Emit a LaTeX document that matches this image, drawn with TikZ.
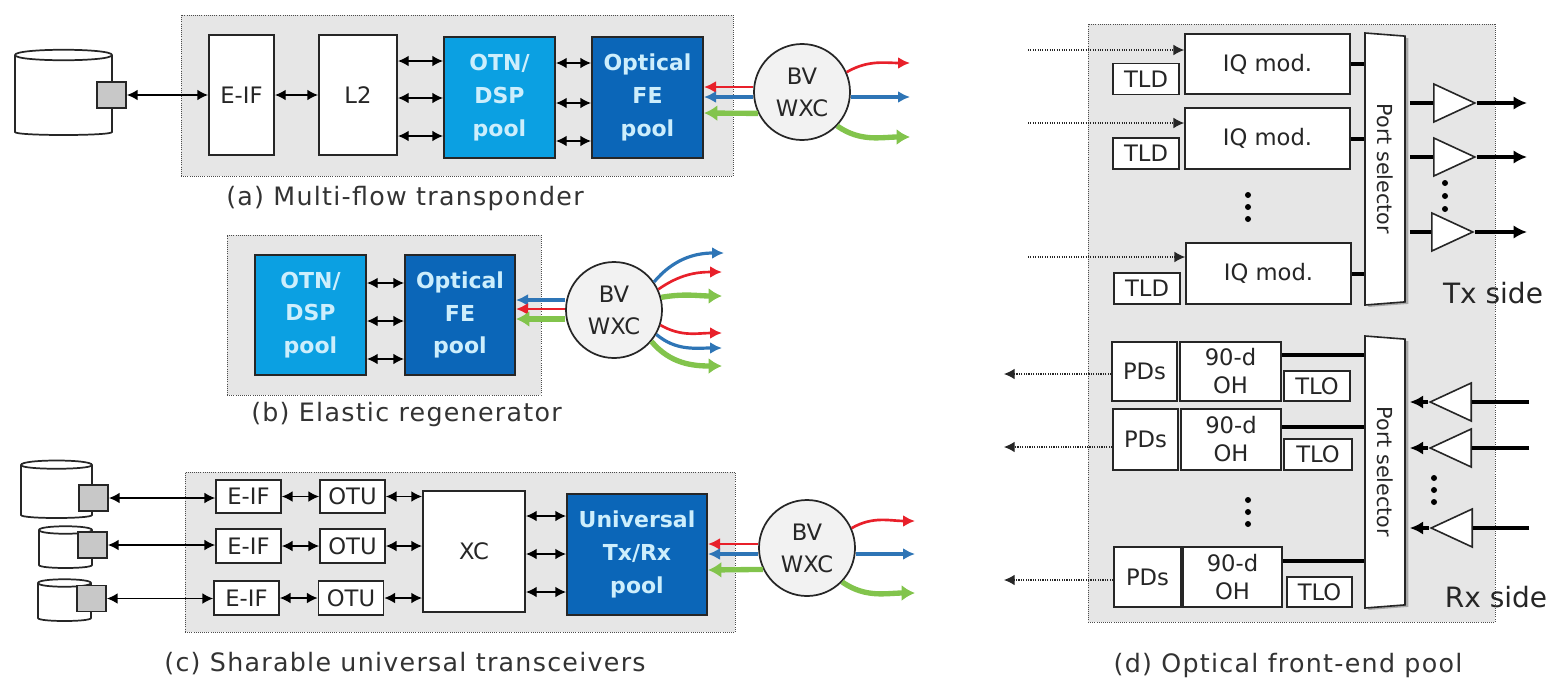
\documentclass[tikz,border=0pt]{standalone}
\usepackage{fontspec}
\setmainfont{DejaVu Sans}
\newfontfamily\captionfont[LetterSpace=5]{DejaVu Sans}
\usetikzlibrary{arrows.meta}
\usetikzlibrary{shapes.geometric}
\usetikzlibrary{shadows}
\definecolor{poolgray}{HTML}{E6E6E6}
\definecolor{squaregray}{HTML}{C8C8C8}
\definecolor{otnblue}{HTML}{0BA0E2}
\definecolor{feblue}{HTML}{0B66B8}
\definecolor{labelblue}{HTML}{CDEEFC}
\definecolor{linkred}{HTML}{E8202A}
\definecolor{linkblue}{HTML}{2E75B6}
\definecolor{linkgreen}{HTML}{82C44C}
\definecolor{inkgray}{HTML}{262626}
\tikzset{wh/.style 2 args={minimum width=#1*0.75pt, minimum height=#2*0.75pt}}
\tikzstyle{pool}=[draw=black!70, fill=poolgray, densely dotted, semithick, inner sep=0]
\tikzstyle{block}=[draw=black!85, fill=white, line width=1.5pt, inner sep=0, align=center, text=inkgray, font=\fontsize{17}{24}\selectfont]
\tikzstyle{small block}=[block, line width=1.3pt, font=\fontsize{17}{21}\selectfont]
\tikzstyle{otn pool}=[block, fill=otnblue, text=labelblue, font=\fontsize{16.5}{24.5}\selectfont\bfseries]
\tikzstyle{fe pool}=[block, fill=feblue, text=labelblue, font=\fontsize{16.5}{24.5}\selectfont\bfseries]
\tikzstyle{wxc}=[circle, draw=black!85, fill=black!5, line width=1.3pt, minimum size=72pt, inner sep=0, align=center, text=inkgray, font=\fontsize{17}{24}\selectfont]
\tikzstyle{client}=[draw=black!85, fill=white, line width=1.3pt]
\tikzstyle{port}=[draw=black!85, fill=squaregray, line width=1.4pt, inner sep=0, wh={29}{26}]
\tikzstyle{biarrow}=[{Latex[length=8pt,width=8pt]}-{Latex[length=8pt,width=8pt]}, line width=1pt, black]
\tikzstyle{red link}=[-{Latex[length=9pt,width=9pt]}, linkred, line width=2pt]
\tikzstyle{blue link}=[-{Latex[length=9pt,width=9pt]}, linkblue, line width=2.4pt]
\tikzstyle{green link}=[-{Latex[length=10pt,width=12pt]}, linkgreen, line width=4pt]
\tikzstyle{caption}=[inner sep=0, text=black!80, font=\fontsize{19}{23}\captionfont\selectfont]
\tikzstyle{side label}=[inner sep=0, text=inkgray, font=\fontsize{21}{24}\selectfont]
\tikzstyle{selector}=[trapezium, rotate=-90, draw=black!85, fill=white, line width=1.2pt, trapezium stretches body, trapezium angle=79, inner sep=0, wh={272}{40}, text=inkgray, drop shadow={shadow xshift=2.5pt, shadow yshift=-1.5pt, opacity=0.6}, font=\fontsize{15.5}{18}\selectfont]
\tikzstyle{amp}=[isosceles triangle, isosceles triangle stretches, draw=black!85, fill=white, line width=1.2pt, inner sep=0, wh={38}{41}, anchor=lower side]
\tikzstyle{thick line}=[line width=3pt, black]
\tikzstyle{thick arrow}=[thick line, -{Latex[length=10pt,width=10pt]}]
\tikzstyle{signal}=[-{Latex[length=8pt,width=8pt]}, densely dotted, thick, black!85]
\tikzstyle{bigdot}=[circle, fill=black, minimum size=4.5pt, inner sep=0]

\begin{document}
\begin{tikzpicture}[x=0.75pt, y=-0.75pt]
  \useasboundingbox (0,0) rectangle (1553,679);

  % (a) multi-flow transponder
  \node[pool, wh={552}{161}] (pool_a) at (457,95.5) {};
  \node[block, wh={65}{120}] (eif_a) at (241.5,95) {E-IF};
  \node[block, wh={78}{120}] (l2_a) at (358,95) {L2};
  \node[otn pool, wh={111}{121}] (otn_a) at (499.5,97.5) {OTN/\\DSP\\pool};
  \node[fe pool, wh={111}{121}] (fe_a) at (647.5,97.5) {Optical\\FE\\pool};
  \node[wxc] (wxc_a) at (802,92) {BV\\WXC};
  \draw[client] (15,55) -- (15,132) .. controls (15,136) and (112,136) .. (112,132) -- (112,55)
    .. controls (112,48) and (15,48) .. (15,55) -- cycle;
  \draw[client] (15,55) .. controls (15,62) and (112,62) .. (112,55);
  \node[port] (port_a) at (111.5,95) {};
  \node[caption] (caption_a) at (405,199) {(a) Multi-flow transponder};

  \coordinate (a_1) at (0,61);
  \coordinate (a_2) at (0,98);
  \coordinate (a_3) at (0,136);
  \coordinate (a_red) at (910,63);
  \coordinate (a_blue) at (910,97);
  \coordinate (a_green) at (910,137);

  \draw[biarrow] (port_a.east) to (eif_a.west |- port_a.east);
  \draw[biarrow] (eif_a.east) to (l2_a.west);
  \draw[biarrow] (l2_a.east |- a_1) to (otn_a.west |- a_1);
  \draw[biarrow] (l2_a.east |- a_2) to (otn_a.west |- a_2);
  \draw[biarrow] (l2_a.east |- a_3) to (otn_a.west |- a_3);
  \draw[biarrow] (otn_a.east |- 0,63) to (fe_a.west |- 0,63);
  \draw[biarrow] (otn_a.east |- 0,103) to (fe_a.west |- 0,103);
  \draw[biarrow] (otn_a.east |- 0,141) to (fe_a.west |- 0,141);
  \draw[red link] (wxc_a.west |- 0,87) to (fe_a.east |- 0,87);
  \draw[blue link] (wxc_a.west |- 0,97) to (fe_a.east |- 0,97);
  \draw[green link] (wxc_a.206) to (fe_a.east |- 0,113);
  \draw[red link] (wxc_a.24) to[out=30, in=180] (a_red);
  \draw[blue link] (wxc_a.east |- a_blue) to (a_blue);
  \draw[green link] (wxc_a.-44) to[out=-35, in=180] (a_green);

  % (b) elastic regenerator
  \node[pool, wh={314}{160}] (pool_b) at (384,315) {};
  \node[otn pool, wh={111}{120}] (otn_b) at (310.5,315) {OTN/\\DSP\\pool};
  \node[fe pool, wh={110}{120}] (fe_b) at (460,315) {Optical\\FE\\pool};
  \node[wxc] (wxc_b) at (614,310) {BV\\WXC};
  \node[caption] (caption_b) at (406.5,415) {(b) Elastic regenerator};

  \coordinate (b_blue1) at (724,253);
  \coordinate (b_red1) at (722,272);
  \coordinate (b_green1) at (722,296);
  \coordinate (b_red2) at (722,333);
  \coordinate (b_blue2) at (722,348);
  \coordinate (b_green2) at (722,366);

  \draw[biarrow] (otn_b.east |- 0,283) to (fe_b.west |- 0,283);
  \draw[biarrow] (otn_b.east |- 0,321) to (fe_b.west |- 0,321);
  \draw[biarrow] (otn_b.east |- 0,359) to (fe_b.west |- 0,359);
  \draw[blue link] (wxc_b.west |- 0,300) to (fe_b.east |- 0,300);
  \draw[red link] (wxc_b.west |- 0,309) to (fe_b.east |- 0,309);
  \draw[green link] (wxc_b.west |- 0,319) to (fe_b.east |- 0,319);
  \draw[blue link] (wxc_b.35) to[out=50, in=180] (b_blue1);
  \draw[red link] (wxc_b.25) to[out=35, in=180] (b_red1);
  \draw[green link] (wxc_b.15) to[out=10, in=180] (b_green1);
  \draw[red link] (wxc_b.-18) to[out=-30, in=180] (b_red2);
  \draw[blue link] (wxc_b.-30) to[out=-40, in=180] (b_blue2);
  \draw[green link] (wxc_b.-40) to[out=-50, in=180] (b_green2);

  % (c) sharable universal transceivers
  \node[pool, wh={550}{160}] (pool_c) at (460,552) {};
  \node[small block, wh={65}{33}] (eif_c1) at (248.5,496.5) {E-IF};
  \node[small block, wh={65}{34}] (eif_c2) at (248.5,546) {E-IF};
  \node[small block, wh={65}{34}] (eif_c3) at (246.5,598) {E-IF};
  \node[small block, wh={65}{33}] (otu_c1) at (352.5,496.5) {OTU};
  \node[small block, wh={65}{34}] (otu_c2) at (352.5,546) {OTU};
  \node[small block, wh={65}{34}] (otu_c3) at (351,598) {OTU};
  \node[block, wh={102}{121}] (xc_c) at (474,551.5) {XC};
  \node[fe pool, wh={140}{121}] (uni_c) at (637,554.5) {Universal\\Tx/Rx\\pool};
  \node[wxc] (wxc_c) at (807,548) {BV\\WXC};
  \draw[client] (21,465) -- (21,515) .. controls (21,519) and (92,519) .. (92,515) -- (92,465)
    .. controls (92,459) and (21,459) .. (21,465) -- cycle;
  \draw[client] (21,465) .. controls (21,470) and (92,470) .. (92,465);
  \draw[client] (39,530) -- (39,565) .. controls (39,569) and (92,569) .. (92,565) -- (92,530)
    .. controls (92,525) and (39,525) .. (39,530) -- cycle;
  \draw[client] (39,530) .. controls (39,535) and (92,535) .. (92,530);
  \draw[client] (38,583) -- (38,618) .. controls (38,622) and (91,622) .. (91,618) -- (91,583)
    .. controls (91,578) and (38,578) .. (38,583) -- cycle;
  \draw[client] (38,583) .. controls (38,588) and (91,588) .. (91,583);
  \node[port] (port_c1) at (93.5,498) {};
  \node[port] (port_c2) at (92.5,545) {};
  \node[port] (port_c3) at (91.5,598.5) {};
  \node[caption] (caption_c) at (405,664) {(c) Sharable universal transceivers};

  \coordinate (c_red) at (915,521);
  \coordinate (c_blue) at (915,554);
  \coordinate (c_green) at (915,593);

  \draw[biarrow] (port_c1.east) to (eif_c1.west |- port_c1.east);
  \draw[biarrow] (port_c2.east) to (eif_c2.west |- port_c2.east);
  \draw[biarrow] (port_c3.east) to (eif_c3.west |- port_c3.east);
  \draw[biarrow] (eif_c1.east) to (otu_c1.west);
  \draw[biarrow] (eif_c2.east) to (otu_c2.west);
  \draw[biarrow] (eif_c3.east) to (otu_c3.west);
  \draw[biarrow] (otu_c1.east) to (xc_c.west |- otu_c1.east);
  \draw[biarrow] (otu_c2.east) to (xc_c.west |- otu_c2.east);
  \draw[biarrow] (otu_c3.east) to (xc_c.west |- otu_c3.east);
  \draw[biarrow] (xc_c.east |- 0,516) to (uni_c.west |- 0,516);
  \draw[biarrow] (xc_c.east |- 0,554) to (uni_c.west |- 0,554);
  \draw[biarrow] (xc_c.east |- 0,592) to (uni_c.west |- 0,592);
  \draw[red link] (wxc_c.west |- 0,544) to (uni_c.east |- 0,544);
  \draw[blue link] (wxc_c.west |- 0,554) to (uni_c.east |- 0,554);
  \draw[green link] (wxc_c.206) to (uni_c.east |- 0,570);
  \draw[red link] (wxc_c.24) to[out=30, in=180] (c_red);
  \draw[blue link] (wxc_c.east |- c_blue) to (c_blue);
  \draw[green link] (wxc_c.-44) to[out=-35, in=180] (c_green);

  % (d) optical front-end pool
  \node[pool, wh={407}{598}] (pool_d) at (1291.5,323) {};

  % Tx side
  \node[small block, wh={165}{60}] (iq_1) at (1267.5,64) {IQ mod.};
  \node[small block, wh={165}{61}] (iq_2) at (1267.5,138.5) {IQ mod.};
  \node[small block, wh={165}{61}] (iq_3) at (1268.5,273.5) {IQ mod.};
  \node[small block, wh={66}{31}] (tld_1) at (1146,79) {TLD};
  \node[small block, wh={66}{31}] (tld_2) at (1146,153.5) {TLD};
  \node[small block, wh={66}{31}] (tld_3) at (1147,288.5) {TLD};
  \node[selector] (sel_tx) at (1385,169) {Port selector};
  \node[amp] (amp_tx1) at (1433,103) {};
  \node[amp] (amp_tx2) at (1433,157) {};
  \node[amp] (amp_tx3) at (1431,232) {};
  \node[side label] (tx_side) at (1493,293) {Tx side};

  \coordinate (tx_in1) at (1028,50);
  \coordinate (tx_in2) at (1028,123);
  \coordinate (tx_in3) at (1028,257);
  \coordinate (tx_out1) at (1527,103);
  \coordinate (tx_out2) at (1527,157);
  \coordinate (tx_out3) at (1527,232);

  \draw[signal] (tx_in1) to (iq_1.west |- tx_in1);
  \draw[signal] (tx_in2) to (iq_2.west |- tx_in2);
  \draw[signal] (tx_in3) to (iq_3.west |- tx_in3);
  \draw[thick line] (iq_1.east) to (sel_tx.south |- iq_1.east);
  \draw[thick line] (iq_2.east) to (sel_tx.south |- iq_2.east);
  \draw[thick line] (iq_3.east) to (sel_tx.south |- iq_3.east);
  \draw[thick line, shorten <=3pt] (sel_tx.north |- tx_out1) to (amp_tx1.lower side);
  \draw[thick line, shorten <=3pt] (sel_tx.north |- tx_out2) to (amp_tx2.lower side);
  \draw[thick line, shorten <=3pt] (sel_tx.north |- tx_out3) to (amp_tx3.lower side);
  \draw[thick arrow] (amp_tx1.apex) to (tx_out1);
  \draw[thick arrow] (amp_tx2.apex) to (tx_out2);
  \draw[thick arrow] (amp_tx3.apex) to (tx_out3);
  \foreach \y in {195,207,219}
    \node[bigdot] (dots_iq_\y) at (1248,\y) {};
  \foreach \y in {183,196,209}
    \node[bigdot] (dots_tx_\y) at (1445,\y) {};

  % Rx side
  \node[small block, wh={65}{59}] (pd_1) at (1144.5,371.5) {PDs};
  \node[small block, wh={65}{61}] (pd_2) at (1145.5,439.5) {PDs};
  \node[small block, wh={67}{60}] (pd_3) at (1147.5,577) {PDs};
  \node[small block, wh={101}{59}] (oh_1) at (1230.5,371.5) {90-d\\OH};
  \node[small block, wh={100}{61}] (oh_2) at (1231,439.5) {90-d\\OH};
  \node[small block, wh={99}{60}] (oh_3) at (1232.5,577) {90-d\\OH};
  \node[small block, wh={66}{30}] (tlo_1) at (1317,386) {TLO};
  \node[small block, wh={68}{31}] (tlo_2) at (1318,454.5) {TLO};
  \node[small block, wh={65}{30}] (tlo_3) at (1319.5,592) {TLO};
  \node[selector] (sel_rx) at (1385,472) {Port selector};
  \node[amp, shape border rotate=180] (amp_rx1) at (1472,402) {};
  \node[amp, shape border rotate=180] (amp_rx2) at (1472,448) {};
  \node[amp, shape border rotate=180] (amp_rx3) at (1473,528) {};
  \node[side label] (rx_side) at (1496,597) {Rx side};
  \node[caption] (caption_d) at (1288,665) {(d) Optical front-end pool};

  \coordinate (rx_out1) at (1004,374);
  \coordinate (rx_out2) at (1004,447);
  \coordinate (rx_out3) at (1004,580);
  \coordinate (rx_in1) at (1529,402);
  \coordinate (rx_in2) at (1529,448);
  \coordinate (rx_in3) at (1529,528);

  \draw[signal] (pd_1.west |- rx_out1) to (rx_out1);
  \draw[signal] (pd_2.west |- rx_out2) to (rx_out2);
  \draw[signal] (pd_3.west |- rx_out3) to (rx_out3);
  \draw[thick line] (oh_1.east |- 0,355) to (sel_rx.south |- 0,355);
  \draw[thick line] (oh_2.east |- 0,427) to (sel_rx.south |- 0,427);
  \draw[thick line] (oh_3.east |- 0,561) to (sel_rx.south |- 0,561);
  \draw[thick line] (rx_in1) to (amp_rx1.lower side);
  \draw[thick line] (rx_in2) to (amp_rx2.lower side);
  \draw[thick line] (rx_in3) to (amp_rx3.lower side);
  \draw[thick arrow, shorten >=3pt] (amp_rx1.apex) to (sel_rx.north |- amp_rx1.apex);
  \draw[thick arrow, shorten >=3pt] (amp_rx2.apex) to (sel_rx.north |- amp_rx2.apex);
  \draw[thick arrow, shorten >=3pt] (amp_rx3.apex) to (sel_rx.north |- amp_rx3.apex);
  \foreach \y in {500,512,524}
    \node[bigdot] (dots_oh_\y) at (1248,\y) {};
  \foreach \y in {478,490,502}
    \node[bigdot] (dots_rx_\y) at (1434,\y) {};
\end{tikzpicture}
\end{document}
